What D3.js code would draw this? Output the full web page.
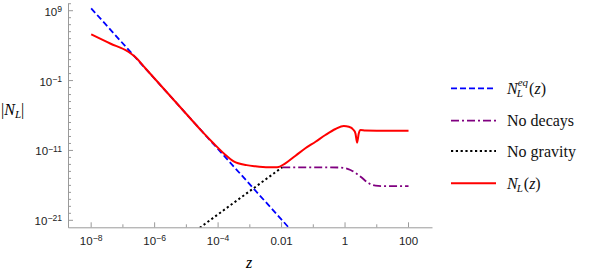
<!DOCTYPE html>
<html>
<head>
<meta charset="utf-8">
<script src="https://cdn.jsdelivr.net/npm/d3@7"></script>
<style>
  body { margin: 0; background: #fff; }
  svg { display: block; }
</style>
</head>
<body>
<div id="chart"></div>
<script>
// values, as log10 exponents
const eqLogZ = [-8, -6, -4, -2, -1.5];
const eqLogN = [9.34, -0.74, -10.82, -20.9, -23.42];

const noDecLogZ = [-1.98, -1.0, -0.14, 0.17, 0.49, 0.75, 0.96, 1.2, 2];
const noDecLogN = [-13.41, -13.41, -13.45, -13.8, -14.76, -15.7, -16.05, -16.1, -16.1];

const noGravLogZ = [-4.7, -3.5, -1.98];
const noGravLogN = [-22.47, -18.47, -13.41];

const nlLogZ = [-8, -7.4, -6.83, -6.61, -6.3, -5, -4.5, -4.14, -3.8, -3.51, -3.1, -2.83, -2.41, -2.14,
  -1.88, -1.56, -1.25, -0.93, -0.62, -0.3, -0.04, 0.12, 0.27, 0.33, 0.38, 0.43, 0.49, 0.64, 1, 2];
const nlLogN = [5.62, 4.31, 3.13, 2.37, 0.8, -5.78, -8.3, -10.0, -11.5, -12.55, -13.1, -13.27, -13.41, -13.41,
  -12.84, -11.75, -10.69, -9.75, -8.79, -7.93, -7.5, -7.6, -8.07, -8.6, -9.89, -8.6, -8.07, -8.15, -8.17, -8.17];

const xTickLabels = ["10^-8", "", "10^-6", "", "10^-4", "", "0.01", "", "1", "", "100"];
const yMajor = [9, -1, -11, -21];
const legendNames = ["eq", "No decays", "No gravity", "NL"];

const width = 590, height = 275;
const pow = v => Math.pow(10, v);

const x = d3.scaleLog().domain([pow(-8.73), pow(2.74)]).range([68, 432]);
const y = d3.scaleLog().domain([pow(-22), pow(10.06)]).range([227.3, 3.3]);

const svg = d3.select("#chart").append("svg")
  .attr("width", width).attr("height", height);

svg.append("defs").append("clipPath").attr("id", "plot")
  .append("rect").attr("x", 68).attr("y", 3.3).attr("width", 364).attr("height", 224);

const axisColor = "#9a9a9a";
const tickFont = "'Liberation Sans', Arial, sans-serif";
const serif = "'Liberation Serif', 'Times New Roman', serif";

// write 10^k with a superscript
function powerLabel(sel, s) {
  sel.text(null);
  if (s.startsWith("10^")) {
    sel.append("tspan").text("10");
    sel.append("tspan").attr("dy", "-0.45em").attr("font-size", "0.75em")
      .text(s.slice(3).replace("-", "\u2212"));
  } else {
    sel.text(s);
  }
}

// x axis
const xDecades = d3.range(-8, 3);
const xAxis = svg.append("g").attr("transform", "translate(0,227.3)")
  .call(d3.axisBottom(x).tickValues(xDecades.map(pow)).tickSize(0).tickFormat(""));
xAxis.select(".domain").attr("stroke", axisColor);
xAxis.selectAll(".tick line").remove();
xDecades.forEach((d, i) => {
  const len = i % 2 === 0 ? 5 : 3;
  svg.append("line").attr("x1", x(pow(d))).attr("x2", x(pow(d)))
    .attr("y1", 227.3).attr("y2", 227.3 - len).attr("stroke", axisColor);
  if (xTickLabels[i]) {
    svg.append("text").attr("x", x(pow(d))).attr("y", 245)
      .attr("text-anchor", "middle").attr("font-family", tickFont)
      .attr("font-size", 11.5).attr("fill", "#222")
      .call(powerLabel, xTickLabels[i]);
  }
});

// y axis
const yAxis = svg.append("g").attr("transform", "translate(68,0)")
  .call(d3.axisLeft(y).tickValues([]).tickSize(0));
yAxis.select(".domain").attr("stroke", axisColor);
d3.range(-21, 11).forEach(d => {
  const major = yMajor.includes(d);
  svg.append("line").attr("x1", 68).attr("x2", 68 + (major ? 5 : 3))
    .attr("y1", y(pow(d))).attr("y2", y(pow(d))).attr("stroke", axisColor);
});
yMajor.forEach(d => {
  svg.append("text").attr("x", 62).attr("y", y(pow(d)) + 5)
    .attr("text-anchor", "end").attr("font-family", tickFont)
    .attr("font-size", 11.5).attr("fill", "#222")
    .call(powerLabel, "10^" + d);
});

// axis titles
svg.append("text").attr("x", 249).attr("y", 268)
  .attr("font-family", serif).attr("font-size", 16).attr("font-style", "italic")
  .attr("text-anchor", "middle").text("z");

const nt = svg.append("text").attr("x", 1).attr("y", 115)
  .attr("font-family", serif).attr("font-size", 16);
nt.append("tspan").text("|");
nt.append("tspan").attr("font-style", "italic").text("N");
nt.append("tspan").attr("font-style", "italic").attr("font-size", 11).attr("dy", 3).text("L");
nt.append("tspan").attr("dy", -3).text("|");

// curves
const pts = (zs, ns) => zs.map((z, i) => [pow(z), pow(ns[i])]);
const line = c => d3.line().x(d => x(d[0])).y(d => y(d[1])).curve(c);

const series = [
  { data: pts(eqLogZ, eqLogN), color: "#0000ff", dash: "6,3", w: 1.8, curve: d3.curveLinear },
  { data: pts(noDecLogZ, noDecLogN), color: "#800080", dash: "8,3,2,3", w: 1.8, curve: d3.curveMonotoneX },
  { data: pts(noGravLogZ, noGravLogN), color: "#000000", dash: "2.2,2.6", w: 2, curve: d3.curveMonotoneX },
  { data: pts(nlLogZ, nlLogN), color: "#ff0000", dash: null, w: 2, curve: d3.curveMonotoneX }
];

const plot = svg.append("g").attr("clip-path", "url(#plot)");
series.forEach(s => {
  plot.append("path")
    .attr("d", line(s.curve)(s.data))
    .attr("fill", "none").attr("stroke", s.color).attr("stroke-width", s.w)
    .attr("stroke-dasharray", s.dash);
});

// legend
const legendY = [88.3, 120.7, 151, 183.3];
series.forEach((s, i) => {
  const ly = legendY[i];
  svg.append("line").attr("x1", 451).attr("x2", 496).attr("y1", ly).attr("y2", ly)
    .attr("stroke", s.color).attr("stroke-width", s.w).attr("stroke-dasharray", s.dash);
  const g = svg.append("g").attr("font-family", serif).attr("fill", "#111");
  const name = legendNames[i];
  if (name === "eq" || name === "NL") {
    const n = g.append("text").attr("x", 507).attr("y", ly + 5.5)
      .attr("font-size", 16).attr("font-style", "italic").text("N");
    let cx = 507 + n.node().getComputedTextLength();
    const sub = g.append("text").attr("x", cx - 1).attr("y", ly + 9)
      .attr("font-size", 11).attr("font-style", "italic").text("L");
    let wMax = sub.node().getComputedTextLength() - 1;
    if (name === "eq") {
      const sup = g.append("text").attr("x", cx).attr("y", ly - 2)
        .attr("font-size", 11).attr("font-style", "italic").text("eq");
      wMax = Math.max(wMax, sup.node().getComputedTextLength());
    }
    cx += wMax + 1;
    const t = g.append("text").attr("x", cx).attr("y", ly + 5.5).attr("font-size", 16);
    t.append("tspan").text("(");
    t.append("tspan").attr("font-style", "italic").text("z");
    t.append("tspan").text(")");
  } else {
    g.append("text").attr("x", 507).attr("y", ly + 5.5).attr("font-size", 16).text(name);
  }
});
</script>
</body>
</html>
